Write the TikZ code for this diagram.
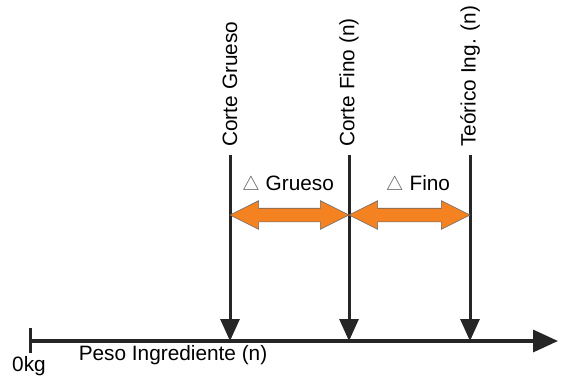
\documentclass[tikz,border=0pt]{standalone}
\usepackage{fontspec}
\setmainfont{Liberation Sans}
\usepackage{xcolor}
\definecolor{cutorange}{HTML}{F58220}
\usetikzlibrary{arrows.meta,positioning,shapes.arrows}

\begin{document}
\begin{tikzpicture}[
  x=0.5pt,y=-0.5pt,
  every node/.style={font=\fontsize{10.4}{12}\selectfont,inner sep=0pt},
  cutlbl/.style={rotate=90,anchor=west},
  cutarr/.style={-{Triangle[width=9.5pt,length=11pt]},line width=1.5pt,draw=black!85},
  axisarr/.style={-{Triangle[width=11pt,length=12.5pt]},line width=1.7pt,draw=black!85},
  delta/.style={double arrow,draw=black!60,line width=0.3pt,fill=cutorange,
    double arrow tip angle=53,double arrow head extend=3.75pt,inner sep=3.25pt,
    minimum width=14pt,anchor=center},
]
\useasboundingbox (0,0) rectangle (561,376);

% Axis
\coordinate (zero) at (30,341);
\coordinate (axend) at (558,341);
\draw[line width=1.5pt,black!85] (30,328) -- (30,353);
\draw[axisarr] (zero) -- (axend);
\node (kg) at (29,366) {0kg};
\node (peso) at (173,355) {Peso Ingrediente (n)};

% Cut points
\node[cutlbl] (grueso) at (230,147) {Corte Grueso};
\node[cutlbl] (fino) at (349,147) {Corte Fino (n)};
\node[cutlbl] (teo) at (470,147) {Teórico Ing. (n)};
\foreach \n/\x in {grueso/230,fino/349,teo/470}{
  \coordinate (\n top) at (\x,155);
  \coordinate (\n bot) at (\x,341);
  \draw[cutarr] (\n top) -- (\n bot);
}

% Deltas
\node[delta,minimum height=59.5pt] (dg) at (289.5,215) {};
\node[delta,minimum height=60.5pt] (df) at (409.5,215) {};
\node (dgl) at (288,185) {{\color{black!60}$\triangle$} Grueso};
\node (dfl) at (418,185) {{\color{black!60}$\triangle$} Fino};
\end{tikzpicture}
\end{document}
